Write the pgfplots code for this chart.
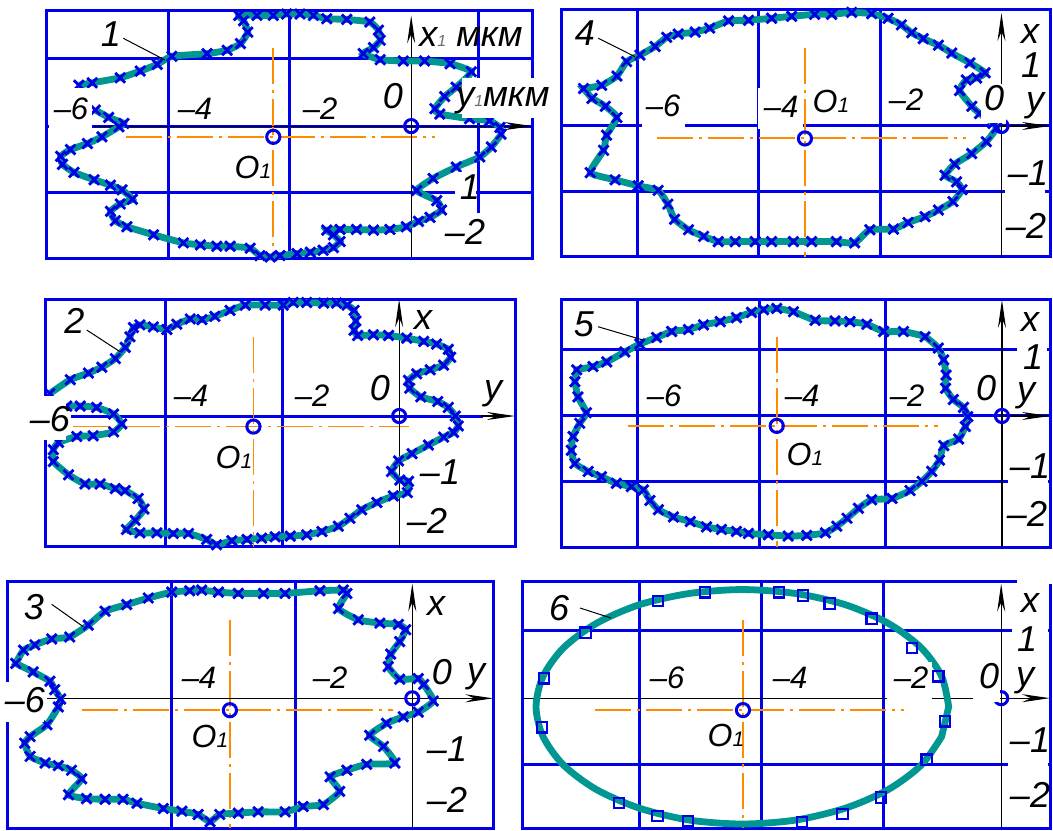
\documentclass[border=0pt]{standalone}
\usepackage{pgfplots}
\pgfplotsset{compat=1.18}
\usepackage{fontspec}
\setmainfont{Liberation Sans}
\usetikzlibrary{arrows.meta}

\definecolor{gridblue}{RGB}{0,0,235}
\definecolor{curveteal}{RGB}{0,150,145}
\definecolor{markblue}{RGB}{0,0,230}
\definecolor{centerorange}{RGB}{255,140,0}
\definecolor{subgray}{RGB}{110,110,110}

\pgfplotsset{
  panel/.style={scale only axis, axis lines=none, clip=false, anchor=south west},
  profile/.style={curveteal, line width=3.4pt, smooth, tension=0.3,
    mark=x, mark size=3.5pt, mark options={markblue, line width=1.4pt, solid}},
  centre/.style={only marks, mark=o, mark size=3.3pt,
    mark options={markblue, line width=1.5pt}},
}
\tikzset{
  grid/.style={gridblue, line width=1.5pt},
  center line/.style={centerorange, line width=0.8pt,
    dash pattern=on 18pt off 3pt on 1.5pt off 3pt},
  axis arrow/.style={black, line width=0.6pt, -{Stealth[length=14pt, width=4pt]}},
  S/.style={font=\fontsize{15.5}{16}\selectfont\itshape, inner sep=0.5pt},
  M/.style={font=\fontsize{16}{17}\selectfont\itshape, inner sep=0.5pt},
  L/.style={font=\fontsize{18}{20}\selectfont\itshape, inner sep=0.5pt},
  leader/.style={black, line width=0.5pt},
}
\newcommand\Oone{O{\fontsize{10.5}{10.5}\selectfont 1}}

\begin{document}
\begin{tikzpicture}
\path[use as bounding box] (0,0) rectangle (526.5pt,-415pt);

% ---------------- profile 1 ----------------
\begin{axis}[panel, at={(23.35pt,-129.15pt)}, width=243pt, height=124.15pt,
  xmin=-6, xmax=2, ymin=-1.97, ymax=1.73]
  \draw[grid] (-6,-1.97) rectangle (2,1.73);
  \draw[grid] (-4,-1.97) -- (-4,1.73);
  \draw[grid] (-2,-1.97) -- (-2,1.73);
  \draw[grid] (1.10,-1.30) -- (1.10,1.73);
  \draw[grid] (-6,1.0) -- (2,1.0);
  \draw[grid] (-6,0) -- (2,0);
  \draw[grid] (-6,-0.99) -- (2,-0.99);
  \draw[center line] (-4.70,-0.16) -- (0.39,-0.16);
  \draw[center line] (-2.27,1.16) -- (-2.27,-1.97);
  \draw[axis arrow] (-5.22,0) -- (2,0);
  \draw[axis arrow] (0,-1.97) -- (0,1.65);
  \addplot[profile] coordinates {
    (-5.47,0.61) (-5.25,0.645) (-4.79,0.72) (-4.46,0.82) (-4.18,0.92) (-3.94,1.04)
    (-3.36,1.08) (-3.03,1.13) (-2.81,1.23) (-2.69,1.40) (-2.76,1.57) (-2.84,1.65)
    (-2.54,1.65) (-2.27,1.65) (-2.05,1.67) (-1.83,1.67) (-1.61,1.65) (-1.39,1.60)
    (-1.06,1.59) (-0.68,1.55) (-0.54,1.43) (-0.51,1.28) (-0.62,1.17) (-0.79,1.08)
    (-0.51,0.99) (-0.13,0.97) (0.22,0.97) (0.64,0.93) (0.99,0.81) (0.74,0.58)
    (0.55,0.44) (0.39,0.26) (0.47,0.18) (0.96,0.11) (1.29,0.08) (1.46,-0.02)
    (1.48,-0.12) (1.32,-0.31) (1.13,-0.46) (0.74,-0.61) (0.36,-0.78) (0.09,-0.96)
    (0.42,-1.11) (0.50,-1.25) (0.31,-1.36) (0.12,-1.42) (-0.08,-1.50) (-0.35,-1.54)
    (-0.62,-1.55) (-0.90,-1.54) (-1.17,-1.54) (-1.39,-1.55) (-1.28,-1.62) (-1.17,-1.72)
    (-1.28,-1.81) (-1.45,-1.85) (-1.66,-1.88) (-1.88,-1.90) (-2.16,-1.93) (-2.32,-1.95)
    (-2.49,-1.93) (-2.65,-1.82) (-2.98,-1.79) (-3.20,-1.79) (-3.47,-1.77) (-3.75,-1.74)
    (-4.24,-1.62) (-4.68,-1.50) (-4.87,-1.41) (-4.95,-1.27) (-4.79,-1.16) (-4.59,-1.09)
    (-4.76,-0.95) (-4.95,-0.88) (-5.22,-0.80) (-5.55,-0.69) (-5.74,-0.57) (-5.77,-0.45)
    (-5.61,-0.35) (-5.33,-0.26) (-5.09,-0.16) (-4.81,-0.01) (-4.73,0.04) (-4.98,0.13)
    (-5.20,0.24)};
  \addplot[centre] coordinates {(0,0) (-2.27,-0.16)};
\end{axis}

% ---------------- profile 4 ----------------
\begin{axis}[panel, at={(280.85pt,-128.35pt)}, width=244.15pt, height=123.35pt,
  xmin=-7.25, xmax=0.80, ymin=-1.99, ymax=1.766]
  \draw[grid] (-7.25,-1.99) rectangle (0.80,1.766);
  \draw[grid] (-6,-1.99) -- (-6,1.766);
  \draw[grid] (-4,-1.99) -- (-4,1.766);
  \draw[grid] (-2,-1.99) -- (-2,1.766);
  \draw[grid] (-7.25,0) -- (0.80,0);
  \draw[grid] (-7.25,-1.0) -- (0.80,-1.0);
  \draw[center line] (-5.68,-0.18) -- (-0.58,-0.18);
  \draw[center line] (-3.24,1.18) -- (-3.24,-1.99);
  \draw[axis arrow] (-0.05,0) -- (0.80,0);
  \draw[axis arrow] (0,-1.99) -- (0,1.72);
  \addplot[profile] coordinates {
    (-6.89,0.57) (-6.59,0.62) (-6.34,0.76) (-6.18,0.98) (-5.96,1.08) (-5.71,1.21)
    (-5.52,1.35) (-5.33,1.40) (-5.05,1.43) (-4.81,1.49) (-4.50,1.60) (-4.17,1.61)
    (-3.79,1.64) (-3.46,1.67) (-3.08,1.70) (-2.80,1.70) (-2.47,1.73) (-2.14,1.71)
    (-1.87,1.64) (-1.65,1.54) (-1.48,1.42) (-1.29,1.33) (-1.04,1.23) (-0.82,1.11)
    (-0.52,0.96) (-0.27,0.81) (-0.41,0.73) (-0.58,0.70) (-0.69,0.54) (-0.49,0.30)
    (-0.36,0.19) (-0.14,0.04) (-0.08,-0.03) (-0.25,-0.24) (-0.49,-0.42) (-0.77,-0.58)
    (-0.93,-0.75) (-0.74,-0.85) (-0.65,-0.97) (-0.80,-1.15) (-1.04,-1.28) (-1.26,-1.38)
    (-1.54,-1.47) (-1.78,-1.57) (-2.17,-1.58) (-2.42,-1.78) (-2.72,-1.76) (-3.13,-1.76)
    (-3.43,-1.76) (-3.79,-1.76) (-4.06,-1.76) (-4.39,-1.76) (-4.67,-1.76) (-4.91,-1.68)
    (-5.16,-1.58) (-5.39,-1.42) (-5.50,-1.19) (-5.66,-0.98) (-5.99,-0.91) (-6.37,-0.82)
    (-6.78,-0.71) (-6.56,-0.37) (-6.51,-0.14) (-6.34,0.13) (-6.53,0.30) (-6.75,0.42)}
    -- cycle;
  \addplot[centre] coordinates {(0,0) (-3.24,-0.19)};
\end{axis}

% ---------------- profile 2 ----------------
\begin{axis}[panel, at={(22.85pt,-273.35pt)}, width=234.65pt, height=123.7pt,
  xmin=-6.04, xmax=1.98, ymin=-1.98, ymax=1.768]
  \draw[grid] (-6.04,-1.98) rectangle (1.98,1.768);
  \draw[grid] (-3.99,-1.98) -- (-3.99,1.768);
  \draw[grid] (-1.99,-1.98) -- (-1.99,1.768);
  \draw[grid] (-5.6,0) -- (1.44,0);
  \draw[center line] (-5.57,-0.16) -- (0.16,-0.16);
  \draw[center line] (-2.49,1.20) -- (-2.49,-1.98);
  \draw[axis arrow] (1.40,0) -- (1.98,0);
  \draw[axis arrow] (0,-1.98) -- (0,1.77);
  \addplot[profile] coordinates {
    (-5.97,0.34) (-5.62,0.55) (-5.31,0.65) (-5.08,0.74) (-4.85,0.87) (-4.68,1.04)
    (-4.60,1.20) (-4.54,1.34) (-4.43,1.38) (-4.20,1.35) (-3.97,1.31) (-3.80,1.39)
    (-3.57,1.47) (-3.37,1.46) (-3.15,1.51) (-2.89,1.60) (-2.63,1.68) (-2.29,1.68)
    (-1.98,1.68) (-1.81,1.72) (-1.58,1.72) (-1.29,1.71) (-1.07,1.71) (-0.89,1.68)
    (-0.77,1.60) (-0.74,1.44) (-0.77,1.30) (-0.71,1.22) (-0.44,1.23) (-0.18,1.22)
    (0.13,1.18) (0.42,1.13) (0.64,1.09) (0.84,1.01) (0.88,0.89) (0.76,0.77)
    (0.53,0.70) (0.30,0.64) (0.16,0.54) (0.18,0.42) (0.37,0.29) (0.66,0.22)
    (0.84,0.13) (0.96,0.0) (1.01,-0.15) (0.93,-0.25) (0.76,-0.32) (0.50,-0.44)
    (0.22,-0.57) (-0.01,-0.68) (-0.13,-0.84) (0.01,-0.97) (0.16,-0.99) (0.14,-1.16)
    (-0.10,-1.21) (-0.38,-1.31) (-0.64,-1.42) (-0.84,-1.55) (-1.04,-1.67) (-1.32,-1.75)
    (-1.58,-1.80) (-1.86,-1.82) (-2.12,-1.83) (-2.35,-1.85) (-2.60,-1.87) (-2.86,-1.89)
    (-3.12,-1.95) (-3.29,-1.87) (-3.60,-1.78) (-3.86,-1.78) (-4.14,-1.77) (-4.43,-1.77)
    (-4.66,-1.72) (-4.51,-1.58) (-4.36,-1.41) (-4.46,-1.25) (-4.68,-1.13) (-4.85,-1.10)
    (-5.11,-1.03) (-5.37,-1.03) (-5.65,-0.89) (-5.91,-0.69) (-5.91,-0.51) (-5.82,-0.40)
    (-5.51,-0.31) (-5.23,-0.30) (-4.88,-0.24) (-4.74,-0.12) (-4.88,0.03) (-5.17,0.13)
    (-5.45,0.15) (-5.68,0.15)};
  \addplot[centre] coordinates {(0,0) (-2.49,-0.16)};
\end{axis}

% ---------------- profile 5 ----------------
\begin{axis}[panel, at={(280.85pt,-273.65pt)}, width=244.15pt, height=124pt,
  xmin=-7.33, xmax=0.80, ymin=-1.99, ymax=1.768]
  \draw[grid] (-7.33,-1.99) rectangle (0.80,1.768);
  \draw[grid] (-6.06,-1.99) -- (-6.06,1.768);
  \draw[grid] (-4.03,-1.99) -- (-4.03,1.768);
  \draw[grid] (-1.94,-1.99) -- (-1.94,1.768);
  \draw[grid] (-7.33,1.01) -- (0.80,1.01);
  \draw[grid] (-7.33,0) -- (0.80,0);
  \draw[grid] (-7.33,-0.995) -- (0.80,-0.995);
  \draw[center line] (-6.22,-0.15) -- (-1.06,-0.15);
  \draw[center line] (-3.75,1.20) -- (-3.75,-1.99);
  \draw[axis arrow] (0.05,0) -- (0.80,0);
  \draw[axis arrow] (0,-1.99) -- (0,1.76);
  \addplot[profile] coordinates {
    (-7.08,0.70) (-6.81,0.75) (-6.58,0.82) (-6.28,0.97) (-6.03,1.09) (-5.75,1.19)
    (-5.50,1.28) (-5.22,1.31) (-4.97,1.38) (-4.69,1.43) (-4.42,1.49) (-4.17,1.57)
    (-3.97,1.61) (-3.75,1.63) (-3.47,1.58) (-3.11,1.45) (-2.78,1.44) (-2.53,1.43)
    (-2.25,1.39) (-1.97,1.28) (-1.64,1.28) (-1.28,1.20) (-1.06,1.03) (-0.97,0.85)
    (-0.93,0.62) (-0.94,0.42) (-0.81,0.25) (-0.64,0.13) (-0.57,-0.01) (-0.61,-0.16)
    (-0.72,-0.35) (-0.97,-0.45) (-1.04,-0.67) (-1.17,-0.84) (-1.33,-0.99) (-1.53,-1.13)
    (-1.83,-1.25) (-2.17,-1.27) (-2.39,-1.40) (-2.58,-1.55) (-2.75,-1.67) (-2.94,-1.77)
    (-3.25,-1.81) (-3.56,-1.82) (-3.89,-1.80) (-4.22,-1.78) (-4.42,-1.75) (-4.67,-1.72)
    (-4.92,-1.68) (-5.19,-1.60) (-5.47,-1.53) (-5.72,-1.42) (-5.86,-1.28) (-5.97,-1.12)
    (-6.17,-1.07) (-6.42,-1.02) (-6.67,-0.92) (-6.89,-0.84) (-7.11,-0.72) (-7.17,-0.52)
    (-7.14,-0.31) (-7.03,-0.11) (-6.92,0.05) (-7.06,0.29) (-7.11,0.52)} -- cycle;
  \addplot[centre] coordinates {(0,0) (-3.75,-0.15)};
\end{axis}

% ---------------- profile 3 ----------------
\begin{axis}[panel, at={(3.65pt,-414.15pt)}, width=243pt, height=123.65pt,
  xmin=-6.75, xmax=1.35, ymin=-1.97, ymax=1.778]
  \draw[grid] (-6.75,-1.97) rectangle (1.35,1.778);
  \draw[grid] (-4.01,-1.97) -- (-4.01,1.778);
  \draw[grid] (-1.94,-1.97) -- (-1.94,1.778);
  \draw[center line] (-5.51,-0.18) -- (-0.32,-0.18);
  \draw[center line] (-3.04,1.19) -- (-3.04,-1.97);
  \draw[axis arrow] (-6.09,0) -- (1.35,0);
  \draw[axis arrow] (0,-1.97) -- (0,1.74);
  \addplot[profile] coordinates {
    (-6.61,0.53) (-6.48,0.73) (-6.29,0.81) (-6.01,0.90) (-5.71,0.93) (-5.40,1.11)
    (-5.12,1.32) (-4.76,1.42) (-4.40,1.52) (-4.01,1.61) (-3.71,1.63) (-3.51,1.64)
    (-3.23,1.61) (-2.90,1.59) (-2.48,1.59) (-2.12,1.59) (-1.54,1.63) (-1.15,1.64)
    (-1.09,1.59) (-1.23,1.36) (-0.90,1.19) (-0.54,1.14) (-0.23,1.12) (-0.11,1.04)
    (-0.21,0.86) (-0.36,0.67) (-0.40,0.48) (-0.21,0.29) (0.10,0.30) (0.19,0.21)
    (0.35,-0.04) (0.10,-0.21) (-0.15,-0.28) (-0.43,-0.38) (-0.71,-0.56) (-0.48,-0.73)
    (-0.29,-0.98) (-0.76,-1.00) (-1.09,-1.09) (-1.37,-1.19) (-1.21,-1.41) (-1.48,-1.61)
    (-1.82,-1.64) (-2.12,-1.72) (-2.57,-1.72) (-2.90,-1.74) (-3.21,-1.76) (-3.37,-1.87)
    (-3.57,-1.76) (-3.84,-1.71) (-4.15,-1.67) (-4.59,-1.59) (-4.82,-1.53) (-5.12,-1.53)
    (-5.43,-1.52) (-5.73,-1.46) (-5.51,-1.22) (-5.68,-1.09) (-5.90,-1.02) (-6.12,-0.98)
    (-6.37,-0.88) (-6.46,-0.68) (-6.37,-0.58) (-6.09,-0.40) (-5.90,-0.13) (-5.86,-0.01)
    (-5.96,0.13) (-6.04,0.26) (-6.32,0.40)} -- cycle;
  \addplot[centre] coordinates {(0,0) (-3.04,-0.18)};
\end{axis}

% ---------------- profile 6 (fitted ellipse) ----------------
\begin{axis}[panel, at={(261pt,-414.15pt)}, width=264pt, height=123.65pt,
  xmin=-7.85, xmax=0.80, ymin=-1.965, ymax=1.769]
  \draw[grid] (-7.85,-1.965) rectangle (0.80,1.769);
  \draw[grid] (-5.93,-1.965) -- (-5.93,1.769);
  \draw[grid] (-3.92,-1.965) -- (-3.92,1.769);
  \draw[grid] (-1.93,-1.965) -- (-1.93,1.769);
  \draw[grid] (-7.85,1.015) -- (0.80,1.015);
  \draw[grid] (-7.85,-0.995) -- (0.80,-0.995);
  \draw[center line] (-6.65,-0.18) -- (-1.59,-0.18);
  \draw[center line] (-4.23,1.18) -- (-4.23,-1.965);
  \draw[axis arrow] (-7.85,0) -- (0.80,0);
  \draw[axis arrow] (0,-1.965) -- (0,1.73);
  \addplot[curveteal, line width=3.4pt, smooth, tension=0.5] coordinates {
    (-0.86,-0.13) (-0.975,0.33) (-1.31,0.76) (-1.85,1.13) (-2.55,1.41) (-3.365,1.58)
    (-4.24,1.64) (-5.115,1.58) (-5.93,1.41) (-6.63,1.13) (-7.17,0.76) (-7.505,0.33)
    (-7.62,-0.13) (-7.505,-0.58) (-7.17,-1.01) (-6.63,-1.38) (-5.93,-1.66) (-5.115,-1.84)
    (-4.24,-1.90) (-3.365,-1.84) (-2.55,-1.66) (-1.85,-1.38) (-1.31,-1.01) (-0.975,-0.58)}
    -- cycle;
  \addplot[only marks, mark=square, mark size=2.6pt,
    mark options={markblue, line width=1.1pt}] coordinates {
    (-6.81,0.99) (-7.49,0.30) (-7.52,-0.44) (-6.26,-1.58) (-5.63,-1.78) (-5.13,-1.86)
    (-3.26,-1.87) (-2.60,-1.75) (-1.97,-1.50) (-1.22,-0.93) (-0.92,-0.35) (-1.03,0.33)
    (-1.46,0.76) (-2.12,1.20) (-2.81,1.43) (-3.25,1.55) (-3.64,1.60) (-4.85,1.60)
    (-5.62,1.47)};
  \addplot[centre] coordinates {(0,0) (-4.23,-0.18)};
\end{axis}

% ---------------- labels ----------------
\begin{scope}[x=0.5pt, y=-0.5pt]
  % white ground behind labels
  \fill[white] (48.5,88) rectangle (92,128.5);
  \fill[white] (462,78) rectangle (545,118);
  \fill[white] (455,172) rectangle (476,206);
  \fill[white] (642,92) rectangle (685,128.5);
  \fill[white] (757.5,88) rectangle (803,128.5);
  \fill[white] (981,84) rectangle (1006,123);
  \fill[white] (1005,160) rectangle (1045,195);
  \fill[white] (30,396) rectangle (66,440);
  \fill[white] (1017,342) rectangle (1047,372);
  \fill[white] (1008,452) rectangle (1048,485);
  \fill[white] (4,682) rectangle (44,722);
  \fill[white] (887,662) rectangle (932,701);
  \fill[white] (973,660) rectangle (1000,702);
  \fill[white] (1012,625) rectangle (1047.5,656);
  \fill[white] (1008,728) rectangle (1047.5,767);
  \fill[white] (1017,577) rectangle (1053,583.5);

  % profile 1
  \node[L] at (111,34) {1};
  \draw[leader] (123.3,38.3) -- (165,60);
  \node[S] at (71,109) {–6};
  \node[S] at (195,109) {–4};
  \node[S] at (320,109) {–2};
  \node[L] at (393,96) {0};
  \node[M] at (253,167) {\Oone};
  \node[L] at (471,37) {x\textcolor{subgray}{\fontsize{8}{8}\selectfont 1}\ мкм};
  \node[L] at (503,101) {y\textcolor{subgray}{\fontsize{8}{8}\selectfont 1}мкм};
  \node[L] at (470,187) {1};
  \node[L] at (465,232) {–2};

  % profile 4
  \node[L] at (585,33) {4};
  \draw[leader] (598.3,38.3) -- (635,56.7);
  \node[S] at (663,106) {–6};
  \node[S] at (781,107) {–4};
  \node[S] at (906,100) {–2};
  \node[M] at (831,101) {\Oone};
  \node[L] at (994,98) {0};
  \node[L] at (1030,34) {x};
  \node[L] at (1031,65) {1};
  \node[L] at (1035,106) {y};
  \node[L] at (1028,173) {–1};
  \node[L] at (1026,226) {–2};

  % profile 2
  \node[L] at (74.5,321) {2};
  \draw[leader] (86.7,330) -- (120,351.7);
  \node[L] at (50,419) {–6};
  \node[S] at (191,396) {–4};
  \node[S] at (312,396) {–2};
  \node[L] at (380,388) {0};
  \node[L] at (423,320) {x};
  \node[L] at (493,394) {y};
  \node[L] at (440,472) {–1};
  \node[L] at (427,521) {–2};
  \node[M] at (234,457) {\Oone};

  % profile 5
  \node[L] at (584,324) {5};
  \draw[leader] (598,326.7) -- (643,340);
  \node[S] at (664,396) {–6};
  \node[S] at (802,396) {–4};
  \node[S] at (907,396) {–2};
  \node[M] at (805,454) {\Oone};
  \node[L] at (986,388) {0};
  \node[L] at (1030,322) {x};
  \node[L] at (1033,357) {1};
  \node[L] at (1026,396) {y};
  \node[L] at (1030,466) {–1};
  \node[L] at (1027,514) {–2};

  % profile 3
  \node[L] at (34,607) {3};
  \draw[leader] (51.7,604.3) -- (83.3,626.7);
  \node[L] at (25,700) {–6};
  \node[S] at (199,678) {–4};
  \node[S] at (330,678) {–2};
  \node[L] at (442,672) {0};
  \node[L] at (476,677) {y};
  \node[L] at (436,606) {x};
  \node[L] at (447,749) {–1};
  \node[L] at (447,800) {–2};
  \node[M] at (210,736) {\Oone};

  % profile 6
  \node[L] at (559,608) {6};
  \draw[leader] (580,608) -- (611,618);
  \node[S] at (667,678) {–6};
  \node[S] at (790,678) {–4};
  \node[S] at (911,678) {–2};
  \node[M] at (726,735) {\Oone};
  \node[L] at (989,676) {0};
  \node[L] at (1025,681) {y};
  \node[L] at (1030,603) {x};
  \node[L] at (1027,639) {1};
  \node[L] at (1030,740) {–1};
  \node[L] at (1030,795) {–2};
\end{scope}
\end{tikzpicture}
\end{document}
